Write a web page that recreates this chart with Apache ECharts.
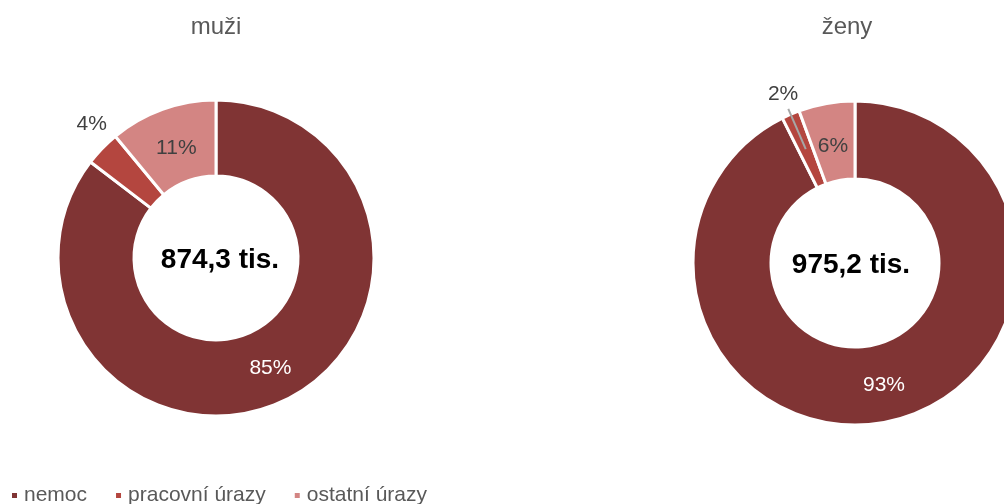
<!DOCTYPE html>
<html><head><meta charset="utf-8">
<script src="https://cdn.jsdelivr.net/npm/echarts@6/dist/echarts.min.js"></script>
<style>html,body{margin:0;padding:0;background:#fff}#c{width:1004px;height:504px}</style>
</head><body><div id="c"></div>
<script>
const categories = ['nemoc', 'pracovní úrazy', 'ostatní úrazy'];
const muziValues = [85.4, 3.6, 11.0];
const zenyValues = [92.6, 1.8, 5.6];
const groupTitles = ['muži', 'ženy'];
const totals = ['874,3 tis.', '975,2 tis.'];
const colors = ['#803434', '#b4463f', '#d38583'];
const FONT = '"Liberation Sans", Arial, sans-serif';

function makeData(vals, outerShow) {
  return vals.map((v, i) => {
    const d = { name: categories[i], value: v, itemStyle: { color: colors[i] } };
    if (i === 0) d.label = { position: 'inside', color: '#ffffff' };
    else if (i === 2) d.label = { position: 'inside', color: '#404040' };
    else d.label = { show: outerShow, position: 'outside', color: '#404040' };
    if (i === 1) d.labelLine = { show: false };
    return d;
  });
}
function overlayData(vals) {
  return vals.map((v, i) => ({
    name: categories[i], value: v,
    itemStyle: { color: 'rgba(0,0,0,0)' },
    label: { show: i === 1, position: 'outside', color: '#404040' },
    labelLine: { show: i === 1, lineStyle: { color: '#a6a6a6', width: 2 } }
  }));
}
function pctFmt(p) { return Math.round(p.percent) + '%'; }

const chart = echarts.init(document.getElementById('c'));
chart.setOption({
  animation: false,
  color: colors,
  title: [
    { text: groupTitles[0], left: 211, top: 10, textAlign: 'center', textStyle: { fontFamily: FONT, fontSize: 24, fontWeight: 'normal', color: '#595959' } },
    { text: groupTitles[1], left: 842, top: 10, textAlign: 'center', textStyle: { fontFamily: FONT, fontSize: 24, fontWeight: 'normal', color: '#595959' } },
    { text: totals[0], left: 215, top: 241, textAlign: 'center', textStyle: { fontFamily: FONT, fontSize: 28, fontWeight: 'bold', color: '#000' } },
    { text: totals[1], left: 846, top: 246, textAlign: 'center', textStyle: { fontFamily: FONT, fontSize: 28, fontWeight: 'bold', color: '#000' } }
  ],
  legend: {
    data: categories,
    left: 5, top: 480,
    icon: 'rect', itemWidth: 7, itemHeight: 7, itemGap: 27,
    textStyle: { fontFamily: FONT, fontSize: 21, color: '#595959', padding: [0, 0, 0, 1] }
  },
  series: [
    {
      type: 'pie', center: [216, 258], radius: [82, 158], startAngle: 90, clockwise: true,
      itemStyle: { borderColor: '#fff', borderWidth: 3 },
      label: { formatter: pctFmt, fontFamily: FONT, fontSize: 21 },
      labelLine: { length: 6, length2: 0 },
      labelLayout: function (p) { return p.dataIndex === 1 ? { dx: 14, dy: -20 } : (p.dataIndex === 2 ? { dx: 2, dy: 6 } : {}); },
      data: makeData(muziValues, true)
    },
    {
      type: 'pie', center: [855, 263], radius: [84, 162], startAngle: 90, clockwise: true,
      itemStyle: { borderColor: '#fff', borderWidth: 3 },
      label: { formatter: pctFmt, fontFamily: FONT, fontSize: 21 },
      labelLine: { length: 10, length2: 0 },
      labelLayout: function (p) { return p.dataIndex === 2 ? { dx: 0, dy: 7 } : {}; },
      data: makeData(zenyValues, false)
    },
    {
      type: 'pie', center: [855, 263], radius: [0, 124], startAngle: 90, clockwise: true,
      silent: true, z: 3,
      itemStyle: { borderWidth: 0 },
      label: { formatter: pctFmt, fontFamily: FONT, fontSize: 21 },
      labelLine: { length: 44, length2: 0 },
      labelLayout: function (p) { return p.dataIndex === 1 ? { dx: 15, dy: -15 } : {}; },
      data: overlayData(zenyValues)
    }
  ]
});
</script></body></html>
